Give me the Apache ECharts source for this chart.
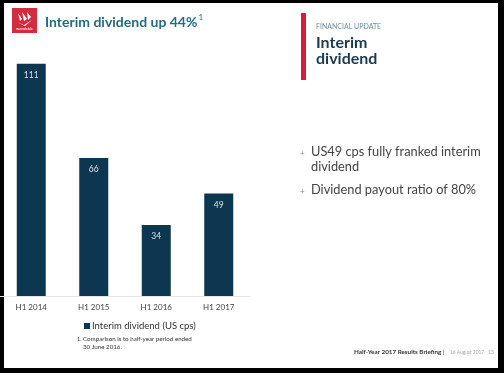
<!DOCTYPE html>
<html><head><meta charset="utf-8">
<script src="https://cdn.jsdelivr.net/npm/echarts@6/dist/echarts.min.js"></script>
<style>html,body{margin:0;padding:0;background:#fff}#c{width:504px;height:373px}</style>
</head><body><div id="c"></div>
<script>
const categories = ['H1 2014', 'H1 2015', 'H1 2016', 'H1 2017'];
const dividendValues = [111, 66, 34, 49];
const seriesName = 'Interim dividend (US cps)';
const bullets = ['US49 cps fully franked interim', 'dividend', 'Dividend payout ratio of 80%'];

const chart = echarts.init(document.getElementById('c'), null, {renderer: 'canvas'});
const F = 'Lato, "Open Sans", sans-serif';
chart.setOption({
  animation: false,
  backgroundColor: '#fff',
  grid: {left: -2, width: 252, top: 45, bottom: 77},
  legend: {
    data: [seriesName], left: 79, top: 316, itemWidth: 6, itemHeight: 6, itemGap: 2,
    icon: 'rect', textStyle: {fontFamily: F, fontSize: 9.5, color: '#333', padding: [0, 0, 0, -3]}
  },
  xAxis: {
    type: 'category', data: categories,
    axisLine: {lineStyle: {color: '#e6e6e6', width: 1}},
    axisTick: {show: false},
    axisLabel: {fontFamily: F, fontSize: 8, color: '#444', margin: 7}
  },
  yAxis: {type: 'value', min: 0, max: 120, show: false, splitLine: {show: false}},
  series: [{
    name: seriesName, type: 'bar', data: dividendValues, barWidth: 29,
    itemStyle: {color: '#0d3650'},
    label: {show: true, position: 'insideTop', distance: 7, color: '#d6e0e8', fontFamily: F, fontSize: 8.5}
  }],
  graphic: [
    {type: 'rect', shape: {x: 12, y: 8, width: 25, height: 25}, style: {fill: '#d52b3f'}},
    {type: 'polygon', shape: {points: [[18,13],[22,19],[20,21]]}, style: {fill: '#fff'}},
    {type: 'polygon', shape: {points: [[22,12],[27,19],[24,21]]}, style: {fill: '#fff'}},
    {type: 'polygon', shape: {points: [[27,12],[31,17],[28,20]]}, style: {fill: '#fff'}},
    {type: 'polygon', shape: {points: [[17,22],[24,25],[32,20],[25,26]]}, style: {fill: '#fff'}},
    {type: 'text', x: 24.5, y: 29, style: {text: 'woodside', fill: '#fff', fontSize: 4, fontFamily: F, align: 'center', verticalAlign: 'middle'}},
    {type: 'text', x: 45, y: 22, style: {text: 'Interim dividend up 44%', fill: '#1e6d87', fontSize: 14, fontWeight: 'bold', fontFamily: F, verticalAlign: 'middle'}},
    {type: 'text', x: 198.5, y: 17, style: {text: '1', fill: '#1e6d87', fontSize: 8, fontFamily: F, verticalAlign: 'middle'}},
    {type: 'rect', shape: {x: 301, y: 13, width: 5, height: 67}, style: {fill: '#d41f3a'}},
    {type: 'text', x: 316, y: 27, style: {text: 'FINANCIAL UPDATE', fill: '#6f8ea1', fontSize: 7, fontFamily: F, verticalAlign: 'middle'}},
    {type: 'text', x: 316, y: 43, style: {text: 'Interim', fill: '#1b3a4f', fontSize: 16, fontWeight: 'bold', fontFamily: F, verticalAlign: 'middle'}},
    {type: 'text', x: 316, y: 59, style: {text: 'dividend', fill: '#1b3a4f', fontSize: 16, fontWeight: 'bold', fontFamily: F, verticalAlign: 'middle'}},
    {type: 'text', x: 300, y: 153, style: {text: '+', fill: '#888', fontSize: 8, fontFamily: F, verticalAlign: 'middle'}},
    {type: 'text', x: 311, y: 152, style: {text: bullets[0], fill: '#444', fontSize: 12.8, fontFamily: F, verticalAlign: 'middle'}},
    {type: 'text', x: 311, y: 167, style: {text: bullets[1], fill: '#444', fontSize: 12.8, fontFamily: F, verticalAlign: 'middle'}},
    {type: 'text', x: 300, y: 191, style: {text: '+', fill: '#888', fontSize: 8, fontFamily: F, verticalAlign: 'middle'}},
    {type: 'text', x: 311, y: 190, style: {text: bullets[2], fill: '#444', fontSize: 12.8, fontFamily: F, verticalAlign: 'middle'}},
    {type: 'text', x: 77, y: 339, style: {text: '1.', fill: '#333', fontSize: 5.5, fontFamily: F, verticalAlign: 'middle'}},
    {type: 'text', x: 83, y: 339, style: {text: 'Comparison is to half-year period ended', fill: '#333', fontSize: 6.2, fontFamily: F, verticalAlign: 'middle'}},
    {type: 'text', x: 83, y: 347, style: {text: '30 June 2016.', fill: '#333', fontSize: 6.2, fontFamily: F, verticalAlign: 'middle'}},
    {type: 'text', x: 354, y: 352, style: {text: 'Half-Year 2017 Results Briefing', fill: '#333', fontSize: 6.3, fontWeight: 'bold', fontFamily: F, verticalAlign: 'middle'}},
    {type: 'text', x: 443, y: 352, style: {text: '|', fill: '#333', fontSize: 6.3, fontFamily: F, verticalAlign: 'middle'}},
    {type: 'text', x: 450, y: 352, style: {text: '16 August 2017', fill: '#aaa', fontSize: 4.8, fontFamily: F, verticalAlign: 'middle'}},
    {type: 'text', x: 488, y: 352, style: {text: '13', fill: '#aaa', fontSize: 5, fontFamily: F, verticalAlign: 'middle'}},
    {type: 'rect', shape: {x: 0, y: 0, width: 504, height: 3}, style: {fill: '#000'}},
    {type: 'rect', shape: {x: 0, y: 0, width: 4, height: 373}, style: {fill: '#000'}},
    {type: 'rect', shape: {x: 498, y: 0, width: 6, height: 373}, style: {fill: '#000'}},
    {type: 'rect', shape: {x: 0, y: 368, width: 504, height: 5}, style: {fill: '#000'}}
  ]
});
</script></body></html>
